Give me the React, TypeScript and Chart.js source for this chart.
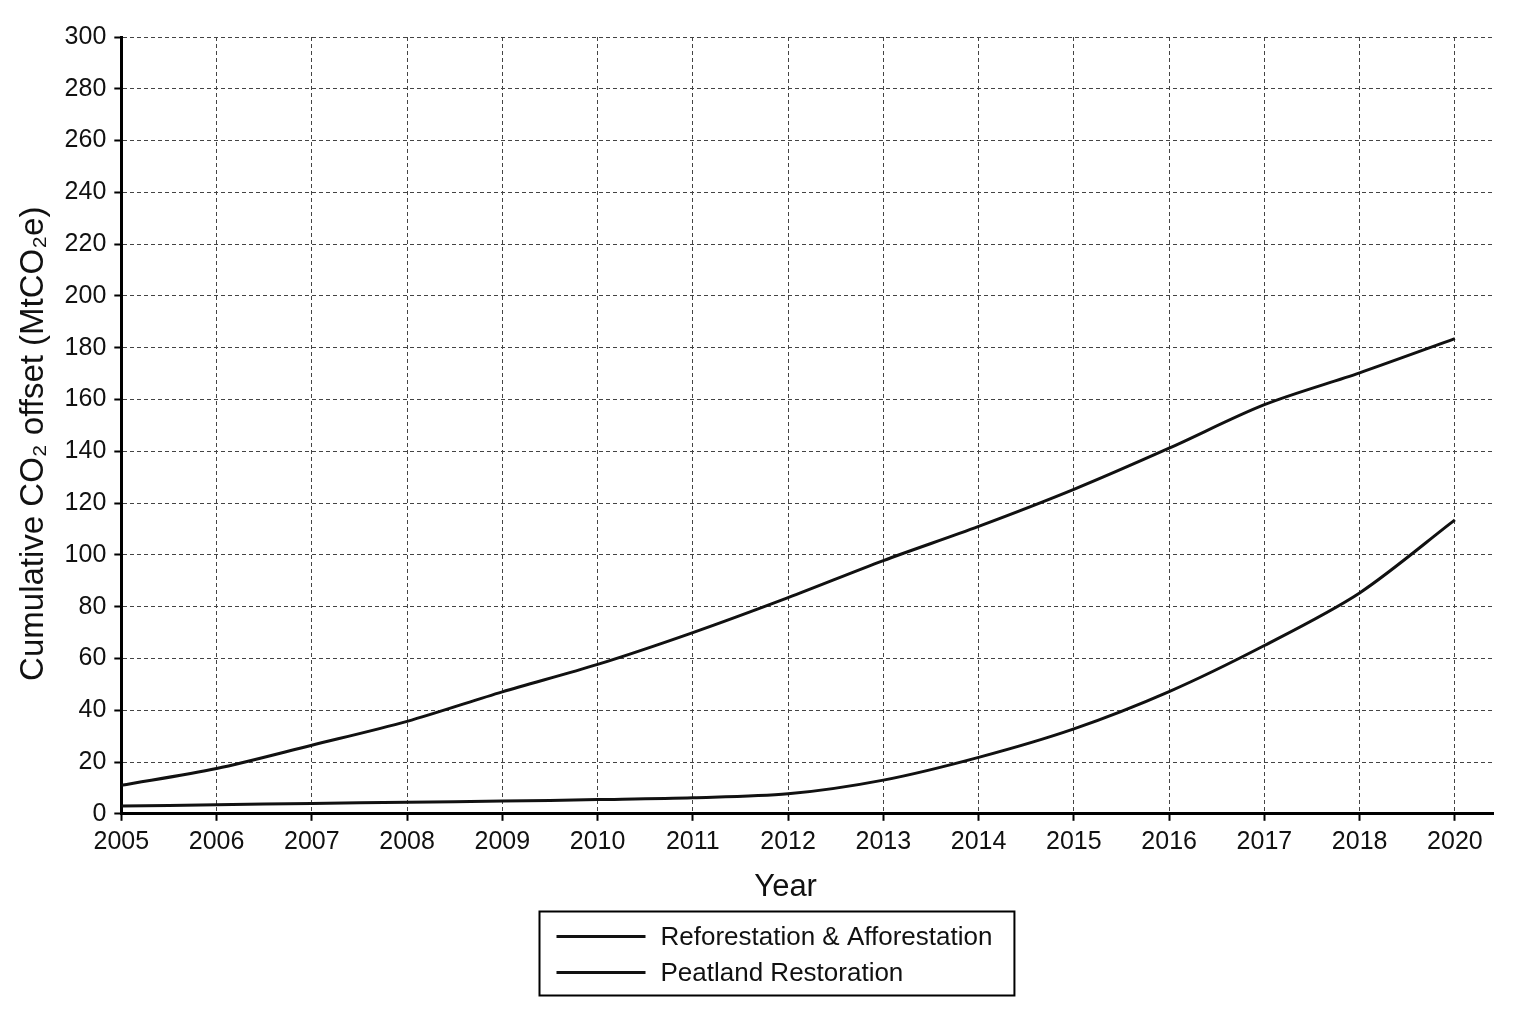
import React, { useEffect, useRef } from 'react';
import { Chart, registerables, Plugin } from 'chart.js';

Chart.register(...registerables);

// x categories (no 2019 in the source figure)
const years = ['2005', '2006', '2007', '2008', '2009', '2010', '2011', '2012', '2013', '2014', '2015', '2016', '2017', '2018', '2020'];

// cumulative offset, MtCO2e
const reforestation = [11, 17.5, 26.5, 35.7, 47.1, 57.7, 70, 83.5, 97.8, 111, 125.3, 141.2, 158, 170.3, 183.5];
const peatland = [3, 3.5, 4, 4.5, 4.9, 5.5, 6.2, 7.7, 13, 21.8, 32.8, 47.2, 65, 85.3, 113.5];

const seriesNames = ['Reforestation & Afforestation', 'Peatland Restoration'];

const yMin = 0;
const yMax = 300;
const yStep = 20;

const FONT = '"Liberation Sans", Arial, Helvetica, sans-serif';
const INK = '#111';

// legend in a bordered box, one entry per row, under the x axis title
const boxedLegend: Plugin<'line'> = {
  id: 'boxedLegend',
  afterDraw(chart) {
    const { ctx } = chart;
    const xScale = chart.scales.x;
    const sets = chart.data.datasets;
    ctx.save();
    ctx.font = `26px ${FONT}`;
    const textW = Math.max(...sets.map(d => ctx.measureText(String(d.label)).width));
    const padL = 17;
    const lineLen = 89;
    const gap = 15;
    const padR = 22;
    const padT = 25;
    const rowH = 36;
    const boxW = padL + lineLen + gap + textW + padR;
    const boxH = padT * 2 + rowH * (sets.length - 1) - 2;
    const left = Math.round(chart.width / 2 + 8 - boxW / 2) + 0.5;
    const top = Math.round(xScale.bottom + 2) + 0.5;

    ctx.lineWidth = 2;
    ctx.strokeStyle = '#000';
    ctx.strokeRect(left, top, boxW, boxH);

    sets.forEach((d, i) => {
      const y = top + padT + i * rowH;
      ctx.beginPath();
      ctx.lineWidth = Number(d.borderWidth) || 3;
      ctx.strokeStyle = String(d.borderColor);
      ctx.moveTo(left + padL, y);
      ctx.lineTo(left + padL + lineLen, y);
      ctx.stroke();
      ctx.fillStyle = INK;
      ctx.textBaseline = 'middle';
      ctx.textAlign = 'left';
      ctx.fillText(String(d.label), left + padL + lineLen + gap, y + 1);
    });
    ctx.restore();
  }
};

const App: React.FC = () => {
  const canvasRef = useRef<HTMLCanvasElement>(null);
  const chartRef = useRef<Chart | null>(null);

  useEffect(() => {
    if (!canvasRef.current) return;
    if (chartRef.current) chartRef.current.destroy();

    const lineStyle = {
      borderColor: INK,
      borderWidth: 3,
      pointRadius: 0,
      tension: 0.3,
      fill: false
    };

    chartRef.current = new Chart(canvasRef.current, {
      type: 'line',
      data: {
        datasets: [
          {
            label: seriesNames[0],
            data: reforestation.map((v, i) => ({ x: i, y: v })),
            ...lineStyle
          },
          {
            label: seriesNames[1],
            data: peatland.map((v, i) => ({ x: i, y: v })),
            ...lineStyle
          }
        ]
      },
      options: {
        responsive: true,
        maintainAspectRatio: false,
        animation: false,
        layout: {
          padding: { top: 37, left: 14, right: 43, bottom: 115 }
        },
        plugins: {
          legend: { display: false },
          tooltip: { enabled: false }
        },
        scales: {
          x: {
            type: 'linear',
            min: 0,
            max: years.length - 1 + 0.4,
            afterBuildTicks: (scale: any) => {
              scale.ticks = years.map((_, i) => ({ value: i }));
            },
            ticks: {
              autoSkip: false,
              maxRotation: 0,
              padding: 6,
              color: INK,
              font: { family: FONT, size: 25 },
              callback: (v: any) => years[Math.round(Number(v))]
            },
            grid: {
              color: '#444',
              lineWidth: 1,
              tickLength: 7,
              tickColor: '#000',
              tickWidth: 2
            },
            border: { display: true, color: '#000', width: 3, dash: [4, 3] },
            title: {
              display: true,
              // trailing spaces nudge the centred title left, as in the source
              text: 'Year     ',
              color: INK,
              font: { family: FONT, size: 31 },
              padding: { top: 6, bottom: 3 }
            }
          },
          y: {
            min: yMin,
            max: yMax,
            ticks: {
              stepSize: yStep,
              padding: 8,
              color: INK,
              font: { family: FONT, size: 25 }
            },
            grid: {
              color: '#444',
              lineWidth: 1,
              tickLength: 7,
              tickColor: '#000',
              tickWidth: 2
            },
            border: { display: true, color: '#000', width: 3, dash: [4, 3] },
            title: {
              display: true,
              text: 'Cumulative CO₂ offset (MtCO₂e)    ',
              color: INK,
              font: { family: FONT, size: 33 },
              padding: { top: 0, bottom: 3 }
            }
          }
        }
      },
      plugins: [boxedLegend]
    });

    return () => {
      if (chartRef.current) {
        chartRef.current.destroy();
        chartRef.current = null;
      }
    };
  }, []);

  return (
    <div style={{ position: 'fixed', left: 0, top: 0, width: 1536, height: 1024, background: '#fff' }}>
      <canvas ref={canvasRef}></canvas>
    </div>
  );
};

export default App;
